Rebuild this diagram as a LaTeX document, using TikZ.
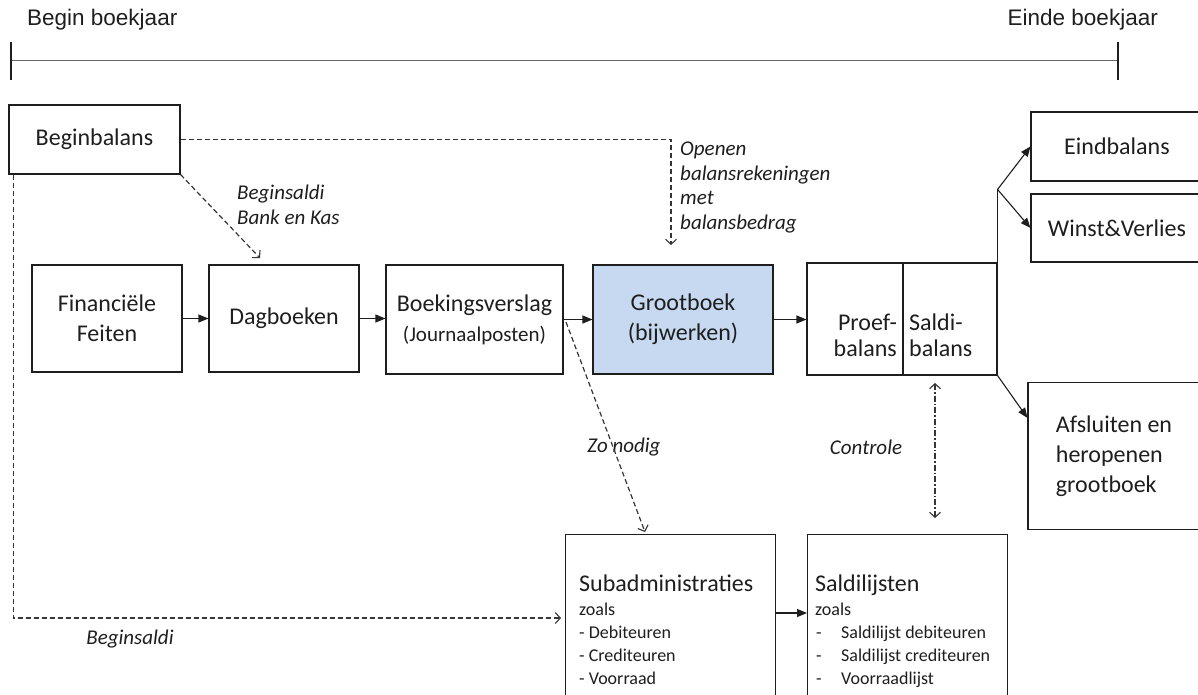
\documentclass[tikz,border=0pt]{standalone}
\usepackage{fontspec}
\setmainfont{Carlito}
\newfontfamily\hdrfont{Liberation Sans}
\usetikzlibrary{arrows.meta,calc}
\definecolor{gblue}{RGB}{198,217,241}
\definecolor{ink}{RGB}{30,30,30}
\begin{document}
\begin{tikzpicture}[x=1pt,y=-1pt,
  boxst/.style={draw=ink,line width=1.1pt,inner sep=0pt,font=\fontsize{24}{30}\selectfont,align=center,text=ink},
  txt/.style={inner sep=0pt,text=ink},
  lbl/.style={font=\fontsize{21}{24.5}\selectfont\itshape,align=left,inner sep=0pt,text=ink},
  hdr/.style={font=\hdrfont\fontsize{22.5}{26}\selectfont,inner sep=0pt,text=ink},
  flow/.style={draw=ink,line width=1.1pt,-{Triangle[length=10pt,width=8pt]}},
  plain/.style={draw=ink,line width=1.1pt},
  dflow/.style={draw=ink!90,line width=1.2pt,dash pattern=on 5pt off 3pt,-{Straight Barb[length=5pt,width=11pt,line width=1.1pt]}},
  cflow/.style={draw=ink!90,line width=1.1pt,dash pattern=on 6pt off 2pt on 1.5pt off 2pt,{Straight Barb[length=5pt,width=11pt,line width=1.1pt]}-{Straight Barb[length=5pt,width=11pt,line width=1.1pt]}}
]
\useasboundingbox (0,0) rectangle (1198,694);
\clip (0,0) rectangle (1198,694);

% timeline
\coordinate (tl) at (11,60);
\coordinate (tr) at (1118,60);
\draw[gray!80!black,line width=1pt] (tl) -- (tr);
\draw[ink,line width=1.1pt] ($(tl)+(0,-18)$) -- ($(tl)+(0,20)$);
\draw[ink,line width=1.1pt] ($(tr)+(0,-18)$) -- ($(tr)+(0,20)$);
\node[hdr,anchor=west] (begin) at (27,20) {Begin boekjaar};
\node[hdr,anchor=east] (einde) at (1158,20) {Einde boekjaar};

% boxes
\node[boxst,minimum width=171,minimum height=69] (bb) at (94.5,139.5) {Beginbalans};
\node[boxst,minimum width=150,minimum height=107] (ff) at (107,318.5) {Financiële\\Feiten};
\node[boxst,minimum width=150,minimum height=107] (dag) at (284,318.5) {Dagboeken};
\node[boxst,minimum width=177,minimum height=109] (boek) at (474.5,319.5) {Boekingsverslag\\{\fontsize{21}{30}\selectfont (Journaalposten)}};
\node[boxst,fill=gblue,minimum width=180,minimum height=109] (groot) at (683,319.5) {Grootboek\\(bijwerken)};
\node[boxst,minimum width=96,minimum height=112] (proef) at (855,319) {};
\node[boxst,minimum width=94,minimum height=112] (saldi) at (950,319) {};
\node[txt,font=\fontsize{24}{26}\selectfont,align=right,anchor=east] (proefT) at (897,335) {Proef-\\balans};
\node[txt,font=\fontsize{24}{26}\selectfont,align=left,anchor=west] (saldiT) at (909,335) {Saldi-\\balans};
\node[boxst,minimum width=172,minimum height=69] (eind) at (1117,146.5) {Eindbalans};
\node[boxst,minimum width=172,minimum height=68] (winst) at (1117,228) {Winst\&Verlies};
\node[boxst,minimum width=172,minimum height=147,align=left] (afs) at (1114,456) {Afsluiten en\\heropenen\\grootboek};
\node[boxst,minimum width=210,minimum height=190,anchor=north west] (sub) at (565,534) {};
\node[boxst,minimum width=200,minimum height=190,anchor=north west] (sal) at (807,534) {};
\node[txt,font=\fontsize{18}{23}\selectfont,align=left,anchor=north west] (subT) at (579,575)
  {{\fontsize{24}{24}\selectfont Subadministraties}\\[1pt] zoals\\ - Debiteuren\\ - Crediteuren\\ - Voorraad};
\node[txt,font=\fontsize{18}{23}\selectfont,align=left,anchor=north west] (salT) at (815,575)
  {{\fontsize{24}{24}\selectfont Saldilijsten}\\[1pt] zoals\\ \makebox[26pt][l]{\hspace{1pt}-}Saldilijst debiteuren\\ \makebox[26pt][l]{\hspace{1pt}-}Saldilijst crediteuren\\ \makebox[26pt][l]{\hspace{1pt}-}Voorraadlijst};

% labels
\node[lbl,anchor=north west] (lbOpen) at (680,142) {Openen\\balansrekeningen\\met\\balansbedrag};
\node[lbl,anchor=north west] (lbBK) at (237,185) {Beginsaldi\\Bank en Kas};
\node[lbl] (lbZo) at (624,447) {Zo nodig};
\node[lbl] (lbCt) at (866,447) {Controle};
\node[lbl] (lbBs) at (130,639) {Beginsaldi};

% solid connectors
\draw[flow] (ff.east) -- (ff.east -| dag.west);
\draw[flow] (dag.east) -- (dag.east -| boek.west);
\draw[flow] (boek.east) -- (boek.east -| groot.west);
\draw[flow] (groot.east) -- (groot.east -| proef.west);
\draw[flow] ($(sub.north east)+(0,79)$) -- ($(sal.north west)+(0,79)$);
\coordinate (br) at ($(saldi.north east)+(0,-73)$);
\draw[plain] (saldi.north east) -- (br);
\draw[flow] (br) -- (eind.west);
\draw[flow] (br) -- (winst.west);
\draw[flow] (saldi.south east) -- ($(afs.north west)+(0,36)$);

% dashed connectors
\coordinate (opEnd) at (671,245);
\draw[dflow] (bb.east) -| (opEnd);
\coordinate (bkEnd) at (260,258);
\draw[dflow] (bb.south east) -- (bkEnd);
\coordinate (bsEnd) at (561,618);
\draw[dflow] ($(bb.south west)+(5,0)$) |- (bsEnd);
\coordinate (zoStart) at (566,322);
\coordinate (zoEnd) at (645,532);
\draw[dflow] (zoStart) -- (zoEnd);
\coordinate (ctTop) at (935,383);
\coordinate (ctBot) at (935,518);
\draw[cflow] (ctTop) -- (ctBot);
\end{tikzpicture}
\end{document}
